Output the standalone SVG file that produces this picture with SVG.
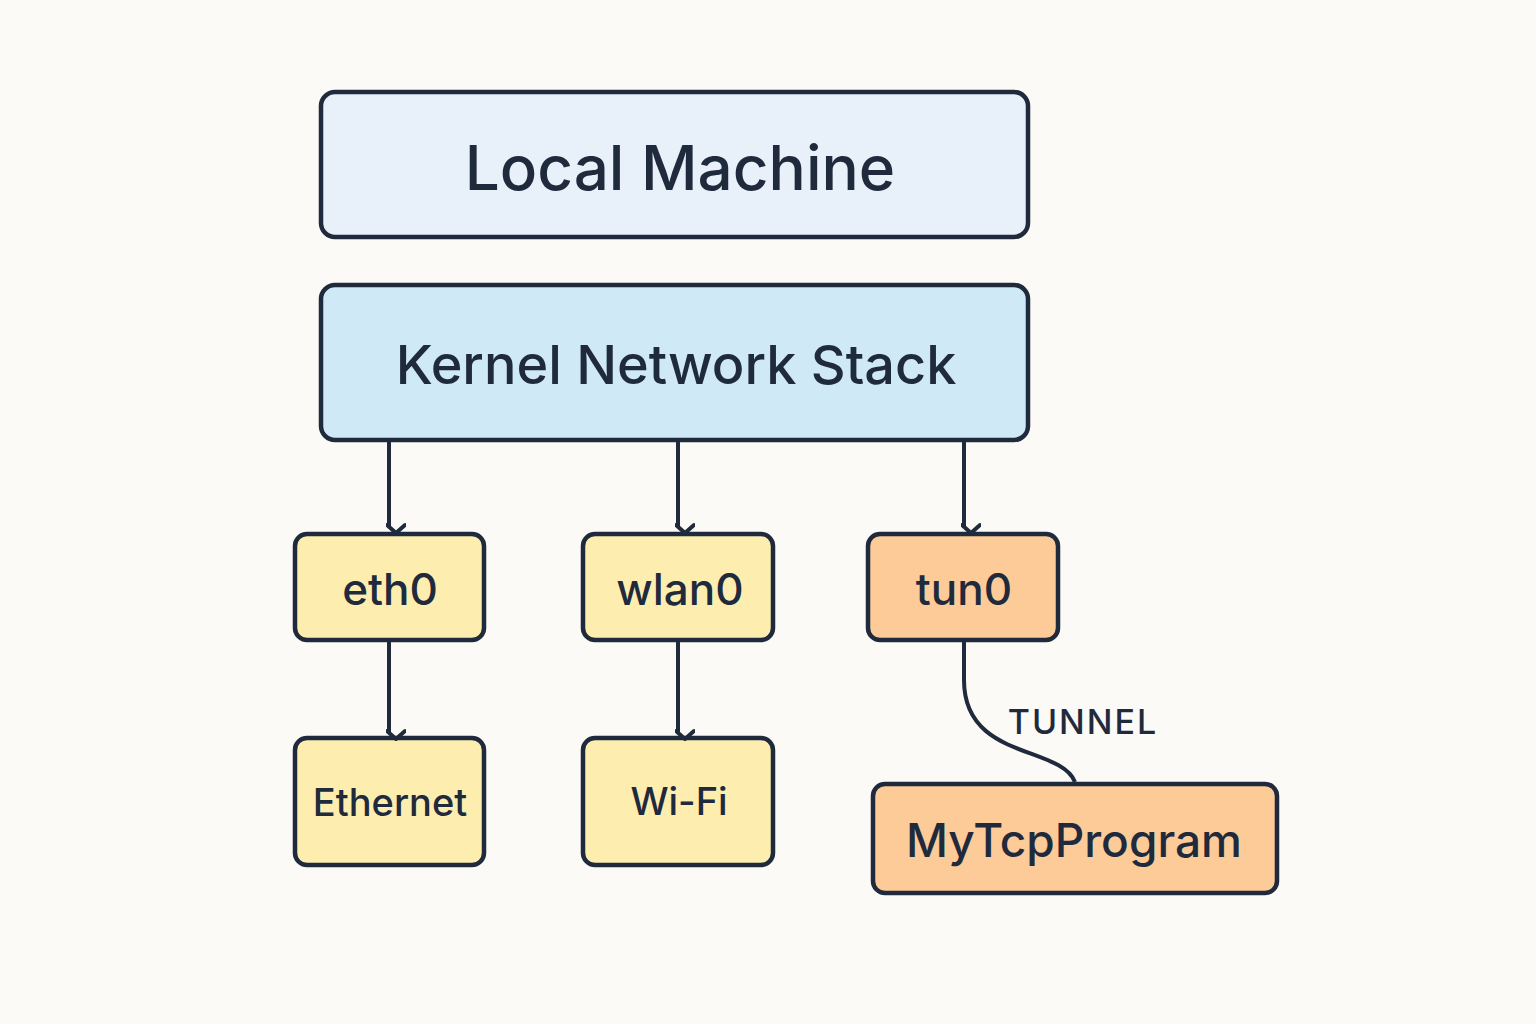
<svg xmlns="http://www.w3.org/2000/svg" width="1536" height="1024" viewBox="0 0 1536 1024">
<style>
.b{stroke:#1f2a3c;stroke-width:4.5}
.t{font-family:Inter,"Noto Sans",sans-serif;fill:#1f2a3c;text-anchor:middle;dominant-baseline:central;font-weight:500}
.c{fill:none;stroke:#1f2a3c;stroke-width:4}
</style>
<defs>
<marker id="a" viewBox="0 0 20 20" refX="10" refY="17" markerWidth="20" markerHeight="20" markerUnits="userSpaceOnUse" orient="auto-start-reverse">
<polyline points="1,9 10,17 19,9" fill="none" stroke="#1f2a3c" stroke-width="4" stroke-linecap="round" stroke-linejoin="round" transform="rotate(-90 10 10)"/>
</marker>
</defs>
<rect width="1536" height="1024" fill="#fcfaf6"/>
<g id="local"><rect class="b" x="321" y="92" width="707" height="145" rx="14" fill="#e8f0fa"/><text class="t" x="680" y="167" font-size="62">Local Machine</text></g>
<g id="kernel"><rect class="b" x="321" y="285" width="707" height="155" rx="14" fill="#cfe9f7"/><text class="t" x="676" y="364" font-size="54">Kernel Network Stack</text></g>
<g id="eth0"><rect class="b" x="295" y="534" width="189" height="106" rx="12" fill="#fdeeb0"/><text class="t" x="390" y="589" font-size="44">eth0</text></g>
<g id="wlan0"><rect class="b" x="583" y="534" width="190" height="106" rx="12" fill="#fdeeb0"/><text class="t" x="680" y="589" font-size="44">wlan0</text></g>
<g id="tun0"><rect class="b" x="868" y="534" width="190" height="106" rx="12" fill="#fccb98"/><text class="t" x="964" y="589" font-size="44">tun0</text></g>
<g id="ethernet"><rect class="b" x="295" y="738" width="189" height="127" rx="12" fill="#fdeeb0"/><text class="t" x="390" y="802" font-size="38">Ethernet</text></g>
<g id="wifi"><rect class="b" x="583" y="738" width="190" height="127" rx="12" fill="#fdeeb0"/><text class="t" x="679" y="801" font-size="38">Wi-Fi</text></g>
<g id="mytcp"><rect class="b" x="873" y="784" width="404" height="109" rx="12" fill="#fccb98"/><text class="t" x="1074" y="840" font-size="46">MyTcpProgram</text></g>
<g id="connectors">
<path class="c" d="M389 440V526" marker-end="url(#a)"/>
<path class="c" d="M678 440V526" marker-end="url(#a)"/>
<path class="c" d="M964 440V526" marker-end="url(#a)"/>
<path class="c" d="M389 640V732" marker-end="url(#a)"/>
<path class="c" d="M678 640V732" marker-end="url(#a)"/>
<path class="c" d="M964 640V680C964 760 1060 745 1075 782"/>
<text x="1083" y="721" font-family="Inter,'Noto Sans',sans-serif" font-size="34" font-weight="500" fill="#1f2a3c" text-anchor="middle" dominant-baseline="central" letter-spacing="2">TUNNEL</text>
</g>
</svg>
